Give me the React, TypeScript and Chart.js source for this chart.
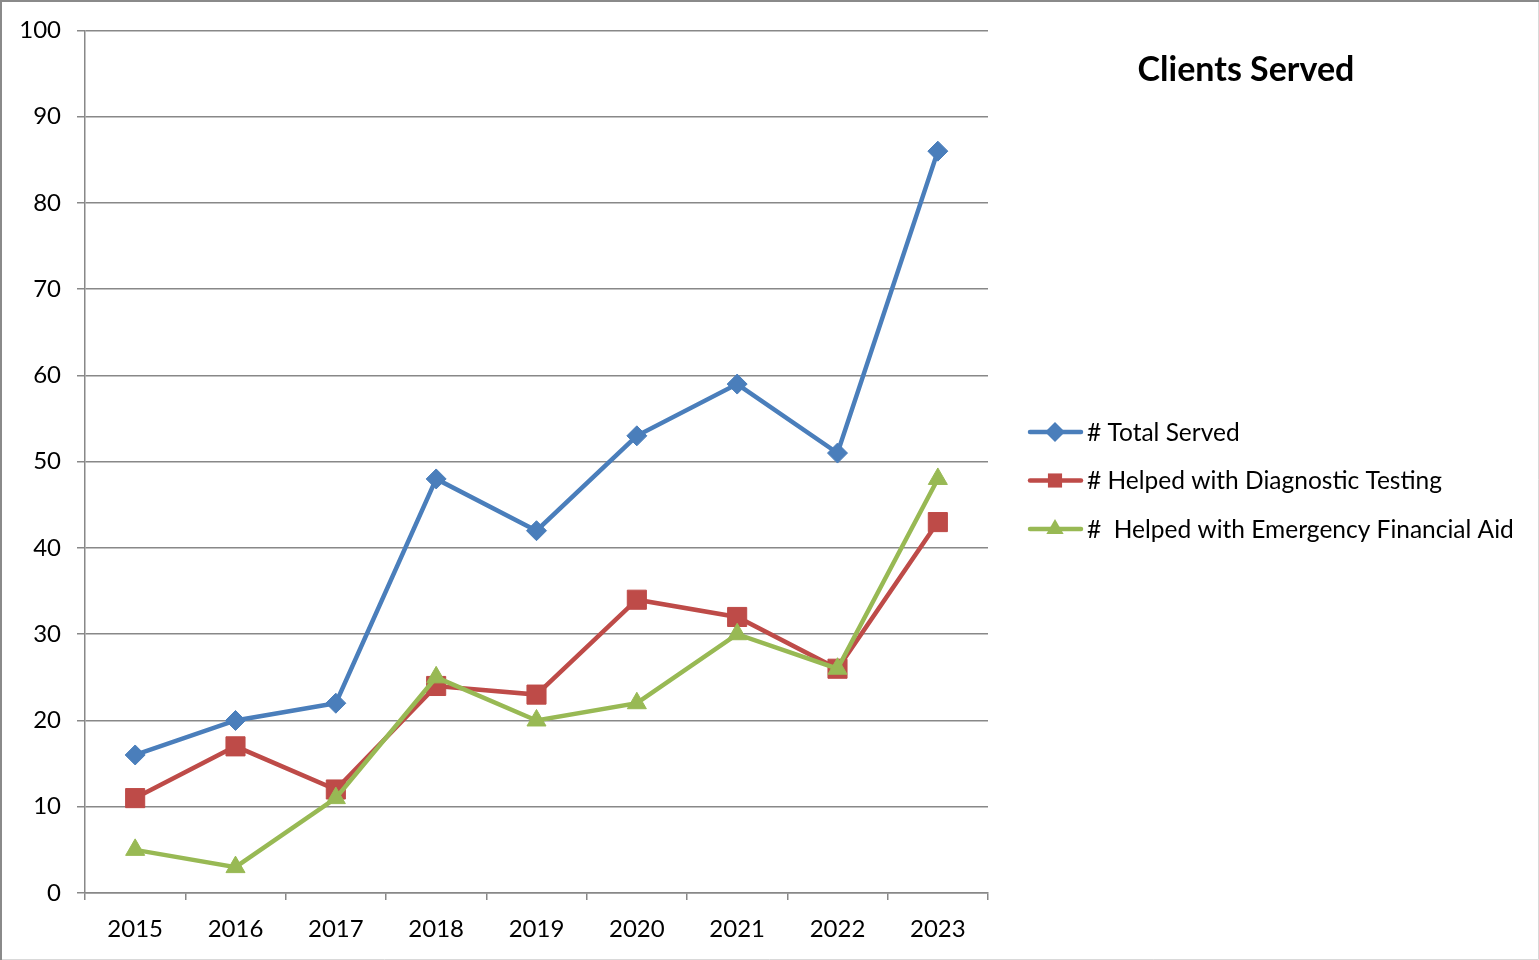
import React, { useEffect, useRef } from "react";
import { Chart, registerables } from "chart.js";

Chart.register(...registerables);

const years = ["2015", "2016", "2017", "2018", "2019", "2020", "2021", "2022", "2023"];
const totalServed = [16, 20, 22, 48, 42, 53, 59, 51, 86];
const diagnosticTesting = [11, 17, 12, 24, 23, 34, 32, 26, 43];
const emergencyAid = [5, 3, 11, 25, 20, 22, 30, 26, 48];
const seriesLabels = [
  "# Total Served",
  "# Helped with Diagnostic Testing",
  "#  Helped with Emergency Financial Aid",
];
const seriesColors = ["#4A7EBB", "#BE4B48", "#98B954"];
const seriesMarkers = ["rectRot", "rect", "triangle"];
const seriesRadii = [10, 13.5, 11];
const chartTitle = "Clients Served";

const FONT = "Lato, 'Open Sans', sans-serif";

function drawMarker(ctx: CanvasRenderingContext2D, style: string, x: number, y: number, r: number) {
  ctx.beginPath();
  if (style === "rectRot") {
    ctx.moveTo(x, y - r);
    ctx.lineTo(x + r, y);
    ctx.lineTo(x, y + r);
    ctx.lineTo(x - r, y);
  } else if (style === "rect") {
    const s = Math.SQRT1_2 * r;
    ctx.rect(x - s, y - s, 2 * s, 2 * s);
  } else {
    ctx.moveTo(x, y - r);
    ctx.lineTo(x + r * Math.cos(Math.PI / 6), y + r * 0.5);
    ctx.lineTo(x - r * Math.cos(Math.PI / 6), y + r * 0.5);
  }
  ctx.closePath();
  ctx.fill();
}

const decorPlugin = {
  id: "decor",
  afterDraw(chart: any) {
    const ctx: CanvasRenderingContext2D = chart.ctx;
    const W = chart.width;
    const H = chart.height;
    ctx.save();
    // frame
    ctx.strokeStyle = "#d9d9d9";
    ctx.lineWidth = 1;
    ctx.beginPath();
    ctx.moveTo(W - 0.5, 0);
    ctx.lineTo(W - 0.5, H - 0.5);
    ctx.lineTo(0, H - 0.5);
    ctx.stroke();
    ctx.strokeStyle = "#8a8a8a";
    ctx.lineWidth = 2;
    ctx.beginPath();
    ctx.moveTo(1, H);
    ctx.lineTo(1, 1);
    ctx.lineTo(W, 1);
    ctx.stroke();

    // title
    ctx.fillStyle = "#000";
    ctx.font = `bold 34px ${FONT}`;
    ctx.textAlign = "center";
    ctx.textBaseline = "middle";
    ctx.fillText(chartTitle, 1246, 70);

    // legend
    ctx.font = `24.5px ${FONT}`;
    ctx.textAlign = "left";
    chart.data.datasets.forEach((ds: any, i: number) => {
      const y = 432 + i * 48.5;
      ctx.strokeStyle = ds.borderColor;
      ctx.lineWidth = 4.5;
      ctx.lineCap = "round";
      ctx.beginPath();
      ctx.moveTo(1030, y);
      ctx.lineTo(1081, y);
      ctx.stroke();
      ctx.fillStyle = ds.borderColor;
      drawMarker(ctx, ds.pointStyle, 1055, y, Math.min(ds.pointRadius, 10));
      ctx.fillStyle = "#000";
      ctx.fillText(ds.label, 1087, y + 1);
    });
    ctx.restore();
  },
};

export default function App() {
  const ref = useRef<HTMLCanvasElement>(null);

  useEffect(() => {
    document.body.style.margin = "0";
    const datasets = [totalServed, diagnosticTesting, emergencyAid].map((d, i) => ({
      label: seriesLabels[i],
      data: d,
      borderColor: seriesColors[i],
      backgroundColor: seriesColors[i],
      pointBackgroundColor: seriesColors[i],
      pointBorderColor: seriesColors[i],
      borderWidth: 4.5,
      pointStyle: seriesMarkers[i],
      pointRadius: seriesRadii[i],
      pointBorderWidth: 1,
      tension: 0,
      order: 3 - i,
    }));
    const chart = new Chart(ref.current!, {
      type: "line",
      data: { labels: years, datasets },
      plugins: [decorPlugin],
      options: {
        animation: false,
        responsive: false,
        layout: { padding: { left: 0, right: 551, top: 30, bottom: 0 } },
        plugins: { legend: { display: false }, title: { display: false }, tooltip: { enabled: false } },
        scales: {
          x: {
            offset: true,
            grid: {
              offset: true,
              drawOnChartArea: false,
              drawTicks: true,
              tickLength: 7,
              color: "#888",
              lineWidth: 1.5,
            },
            border: { color: "#888", width: 1.5 },
            ticks: { color: "#000", font: { family: FONT, size: 24 }, padding: 15, maxRotation: 0 },
            afterFit: (s: any) => { s.height = 67; },
          },
          y: {
            min: 0,
            max: 100,
            grid: { color: "#888", lineWidth: 1.5, tickLength: 8 },
            border: { color: "#888", width: 1.5 },
            ticks: { stepSize: 10, color: "#000", font: { family: FONT, size: 24 }, padding: 16 },
            afterFit: (s: any) => { s.width = 85; },
          },
        },
      },
    } as any);
    return () => chart.destroy();
  }, []);

  return (
    <div style={{ width: 1539, height: 960, position: "relative" }}>
      <canvas ref={ref} width={1539} height={960} style={{ display: "block" }} />
    </div>
  );
}
